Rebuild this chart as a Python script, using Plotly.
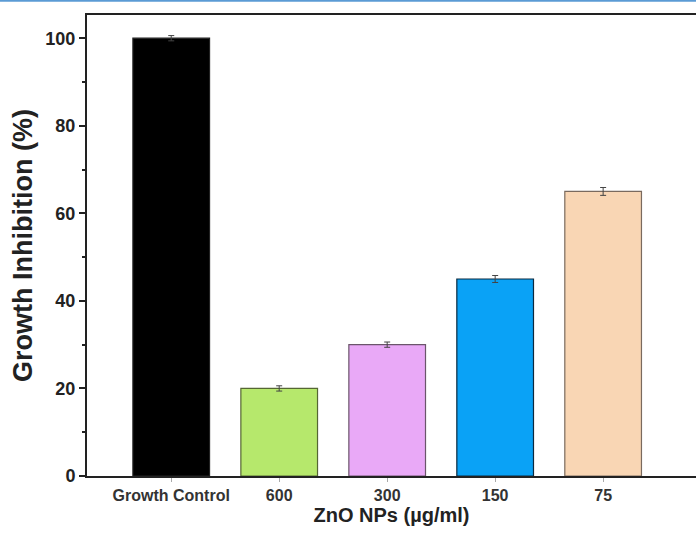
import plotly.graph_objects as go

categories = ["Growth Control", "600", "300", "150", "75"]
values = [100, 20, 30, 45, 65]
errors = [0.6, 0.6, 0.6, 0.8, 0.9]
colors = ["#000000", "#b6e86c", "#e9a9f7", "#0aa2f6", "#f9d6b4"]
outlines = ["#222222", "#556633", "#6b556b", "#0a2a40", "#7a6a5e"]

fig = go.Figure()
fig.add_trace(go.Bar(
    x=list(range(len(categories))), y=values,
    width=0.71,
    marker=dict(color=colors, line=dict(color=outlines, width=1.2)),
    error_y=dict(type="data", array=errors, visible=True, color="#444444", thickness=1, width=3),
    showlegend=False,
))

fig.update_layout(
    width=696, height=534,
    margin=dict(l=87, r=0, t=15, b=58),
    plot_bgcolor="white", paper_bgcolor="white",
    font=dict(family="Liberation Sans, Arial, sans-serif", color="#222222"),
)
fig.update_xaxes(
    range=[-0.78, 4.86],
    tickmode="array", tickvals=list(range(len(categories))), ticktext=categories,
    tickfont=dict(size=16, family="Liberation Sans, Arial, sans-serif", weight="bold", color="#333333"),
    showline=True, linecolor="#222222", linewidth=2, mirror=True,
    ticks="outside", ticklen=4, tickcolor="#aaaaaa",
    showgrid=False, zeroline=False,
    title=dict(text="ZnO NPs (µg/ml)", font=dict(size=20, weight="bold", color="#222222"), standoff=4),
)
fig.update_yaxes(
    range=[0, 105.3],
    tickvals=[0, 20, 40, 60, 80, 100],
    tickfont=dict(size=18, family="Liberation Sans, Arial, sans-serif", weight="bold", color="#222222"),
    showline=True, linecolor="#222222", linewidth=2, mirror=False,
    ticks="outside", ticklen=6, tickwidth=2, tickcolor="#222222",
    minor=dict(tickvals=[10, 30, 50, 70, 90], ticks="outside", ticklen=3, tickwidth=2, tickcolor="#222222"),
    showgrid=False, zeroline=False,
    title=dict(text="Growth Inhibition (%)", font=dict(size=27, weight="bold", color="#222222"), standoff=5),
)
fig.add_shape(type="line", xref="paper", yref="paper", x0=-0.2, x1=1.0, y0=1.031, y1=1.031,
              line=dict(color="#5b9bd5", width=2))
fig.write_html("out.html", post_script="document.body.style.margin='0';",
               config={"displayModeBar": False})
